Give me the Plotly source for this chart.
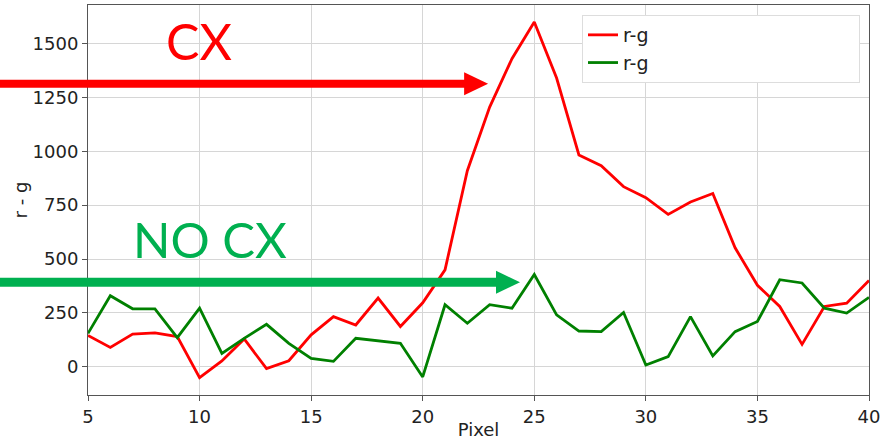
import plotly.graph_objects as go

# Pixel positions along the line profile
pixels = list(range(5, 41))

# r - g profile through the charge-exchange region
rg_cx = [145, 90, 152, 157, 140, -50, 27, 129, -8, 28,
         148, 233, 194, 319, 187, 297, 450, 910, 1205, 1430,
         1600, 1340, 983, 933, 836, 785, 707, 765, 804, 552,
         378, 280, 104, 280, 295, 400]

# r - g profile through the region without charge exchange
rg_no_cx = [155, 330, 269, 269, 135, 272, 62, 132, 197, 109,
            39, 25, 132, 120, 109, -47, 288, 202, 288, 272,
            428, 241, 166, 163, 252, 8, 47, 233, 50, 163,
            210, 404, 389, 272, 249, 322]

legend_names = ["r-g", "r-g"]

x_range = [5, 40]
y_range = [-131, 1679]
y_ticks = [0, 250, 500, 750, 1000, 1250, 1500]
x_ticks = [5, 10, 15, 20, 25, 30, 35, 40]

# Arrow levels (data units) and tip positions
arrow_cx = {"y": 1313, "tip": 22.93, "color": "#ff0000"}
arrow_no_cx = {"y": 392, "tip": 24.36, "color": "#00b050"}

W, H = 885, 440
margin = dict(l=88, r=16, t=5, b=45)
plot_w = W - margin["l"] - margin["r"]
plot_h = H - margin["t"] - margin["b"]


def px_x(v):
    return (v - x_range[0]) / (x_range[1] - x_range[0])


def px_y(v):
    return (v - y_range[0]) / (y_range[1] - y_range[0])


fig = go.Figure()
fig.add_trace(go.Scatter(x=pixels, y=rg_cx, mode="lines",
                         line=dict(color="#ff0000", width=2.8),
                         name=legend_names[0] + "\u00a0" * 34))
fig.add_trace(go.Scatter(x=pixels, y=rg_no_cx, mode="lines",
                         line=dict(color="#008000", width=2.8),
                         name=legend_names[1] + "\u00a0" * 34))

shapes = []
for arr, shaft_w in ((arrow_cx, 8), (arrow_no_cx, 9)):
    yc = px_y(arr["y"])
    tip = px_x(arr["tip"])
    head_len = 24 / plot_w
    head_half = 11.5 / plot_h
    start = -margin["l"] / plot_w
    shapes.append(dict(type="line", xref="paper", yref="paper",
                       x0=start, x1=tip - head_len + 2 / plot_w, y0=yc, y1=yc,
                       line=dict(color=arr["color"], width=shaft_w)))
    shapes.append(dict(type="path", xref="paper", yref="paper",
                       path=f"M {tip - head_len} {yc - head_half} L {tip} {yc} "
                            f"L {tip - head_len} {yc + head_half} Z",
                       fillcolor=arr["color"], line=dict(width=0)))

annotations = [
    dict(text="CX", xref="paper", yref="paper",
         x=(199 - margin["l"]) / plot_w, y=(H - margin["b"] - 40.5) / plot_h,
         xanchor="center", yanchor="middle", showarrow=False,
         font=dict(family="Lato", size=50, color="#ff0000")),
    dict(text="NO CX", xref="paper", yref="paper",
         x=(210 - margin["l"]) / plot_w, y=(H - margin["b"] - 238.5) / plot_h,
         xanchor="center", yanchor="middle", showarrow=False,
         font=dict(family="Lato", size=49, color="#00b050")),
]

fig.update_layout(
    width=W, height=H, margin=margin,
    paper_bgcolor="white", plot_bgcolor="white",
    font=dict(family="DejaVu Sans", size=18, color="#222222"),
    shapes=shapes, annotations=annotations,
    legend=dict(x=(860 - margin["l"]) / plot_w, y=1 - 10 / plot_h,
                xanchor="right", yanchor="top",
                bgcolor="white", bordercolor="#dddddd", borderwidth=1,
                font=dict(size=19), tracegroupgap=0),
    xaxis=dict(range=x_range, tickvals=x_ticks, showgrid=True,
               gridcolor="#d6d6d6", gridwidth=1, zeroline=False,
               showline=True, linecolor="#555555", linewidth=1, mirror=True,
               ticks="outside", ticklen=5, tickcolor="#555555",
               automargin=False,
               title=dict(text="Pixel", font=dict(size=18), standoff=2)),
    yaxis=dict(range=y_range, tickvals=y_ticks, showgrid=True,
               gridcolor="#d6d6d6", gridwidth=1, zeroline=False,
               showline=True, linecolor="#555555", linewidth=1, mirror=True,
               ticks="outside", ticklen=5, tickcolor="#555555",
               automargin=False,
               title=dict(text="r - g", font=dict(size=18), standoff=0)),
)

fig.write_html("out.html")
